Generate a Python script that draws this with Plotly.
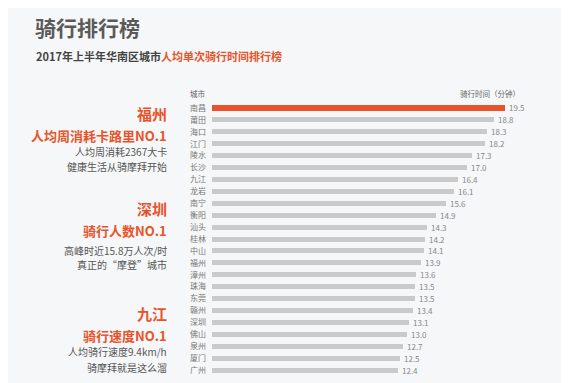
import plotly.graph_objects as go

cities = ["南昌", "莆田", "海口", "江门", "陵水", "长沙", "九江", "龙岩", "南宁", "衡阳", "汕头", "桂林",
          "中山", "福州", "漳州", "珠海", "东莞", "赣州", "深圳", "佛山", "泉州", "厦门", "广州"]
minutes = [19.5, 18.8, 18.3, 18.2, 17.3, 17.0, 16.4, 16.1, 15.6, 14.9, 14.3, 14.2,
           14.1, 13.9, 13.6, 13.5, 13.5, 13.4, 13.1, 13.0, 12.7, 12.5, 12.4]

title = "骑行排行榜"
subtitle_a = "2017年上半年华南区城市"
subtitle_b = "人均单次骑行时间排行榜"
col_city = "城市"
col_value = "骑行时间（分钟）"

highlights = [
    ("福州", "人均周消耗卡路里NO.1", "人均周消耗2367大卡", "健康生活从骑摩拜开始"),
    ("深圳", "骑行人数NO.1", "高峰时近15.8万人次/时", "真正的“摩登”城市"),
    ("九江", "骑行速度NO.1", "人均骑行速度9.4km/h", "骑摩拜就是这么溜"),
]

ORANGE = "#e8532b"
GRAY_BAR = "#cacaca"
FONT = "Noto Sans CJK SC"
W, H = 574, 383

colors = [ORANGE if i == 0 else GRAY_BAR for i in range(len(cities))]
widths = [0.5 if i == 0 else 0.42 for i in range(len(cities))]

fig = go.Figure()
fig.add_trace(go.Bar(
    x=minutes, y=cities, orientation="h",
    marker=dict(color=colors, line=dict(width=0)),
    width=widths,
    hoverinfo="skip",
))

for c, v in zip(cities, minutes):
    fig.add_annotation(x=v, y=c, xref="x", yref="y", text=f"{v:.1f}",
                       xanchor="left", yanchor="middle", xshift=2, showarrow=False,
                       font=dict(size=8, color="#888888", family=FONT))

ml, mr, mt, mb = 204, 10, 94, 15
fig.update_layout(
    width=W, height=H,
    margin=dict(l=ml, r=mr, t=mt, b=mb),
    paper_bgcolor="#ffffff",
    plot_bgcolor="rgba(0,0,0,0)",
    showlegend=False,
    bargap=0,
    font=dict(family=FONT),
    xaxis=dict(range=[0, 24], visible=False, fixedrange=True),
    yaxis=dict(type="category", categoryorder="array", categoryarray=cities,
               range=[len(cities) - 0.5, -0.5], showgrid=False, zeroline=False,
               showline=False, ticks="", ticklabelstandoff=5,
               tickfont=dict(size=8, color="#777777", family=FONT), fixedrange=True),
)

fig.add_shape(type="rect", xref="paper", yref="paper",
              x0=-ml / (W - ml - mr), x1=(553 - ml) / (W - ml - mr),
              y0=-mb / (H - mt - mb), y1=1 + mt / (H - mt - mb),
              fillcolor="#f6f7f8", line=dict(width=0), layer="below")


def px_x(px):
    return (px - ml) / (W - ml - mr)


def px_y(py):
    return 1 - (py - mt) / (H - mt - mb)


def ann(text, x, y, size, color, anchor="left", bold=False):
    t = f"<b>{text}</b>" if bold else text
    fig.add_annotation(text=t, x=px_x(x), y=px_y(y), xref="paper", yref="paper",
                       xanchor=anchor, yanchor="middle", showarrow=False,
                       font=dict(size=size, color=color, family=FONT))


ann(title, 25, 19, 21, "#5a5a5a", bold=True)
ann(f"{subtitle_a}<span style='color:{ORANGE}'>{subtitle_b}</span>", 26, 48, 11, "#444444", bold=True)
ann(col_city, 180, 85, 7.5, "#666666")
ann(col_value, 514, 85, 7.5, "#666666", anchor="right")

blocks_y = [(106, 127, 143, 158), (200, 222, 242, 256), (305, 327, 343, 359)]
for (name, head, l1, l2), (y0, y1, y2, y3) in zip(highlights, blocks_y):
    ann(name, 161, y0, 15, ORANGE, anchor="right", bold=True)
    ann(head, 161, y1, 13, ORANGE, anchor="right", bold=True)
    ann(l1, 161, y2, 10, "#555555", anchor="right")
    ann(l2, 161, y3, 10, "#555555", anchor="right")

fig.write_html("out.html")
